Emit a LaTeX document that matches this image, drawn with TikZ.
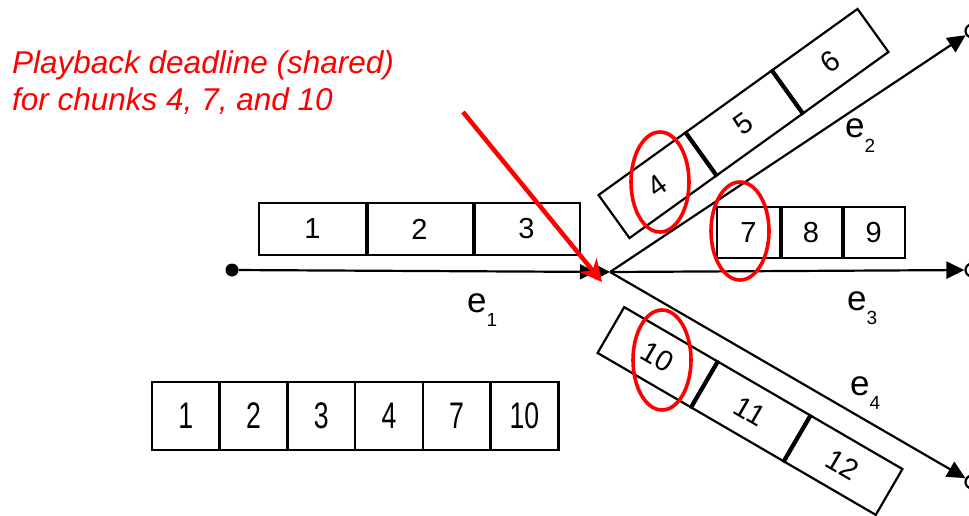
\documentclass[tikz,border=0pt]{standalone}
\usepackage{fontspec}
\setmainfont{Liberation Sans}
\usepackage{graphicx}
\usetikzlibrary{arrows.meta, positioning}

\newcommand\chunkfont{\fontsize{29}{29}\selectfont}
\newcommand\narrow[1]{\scalebox{0.72}[1]{\fontsize{37}{37}\selectfont #1}}
\newcommand\edgename[1]{\fontsize{35}{35}\selectfont e\raisebox{-0.42em}{\fontsize{19}{19}\selectfont #1}}

\begin{document}
\begin{tikzpicture}[x=1pt, y=1pt,
    cell/.style={draw, line width=2.2pt, minimum height=52pt, inner sep=0pt, font=\chunkfont},
    divider/.style={line width=3.8pt},
    link/.style={line width=2.2pt, -{Triangle[length=18pt, width=17pt]}},
    ring/.style={draw=red, line width=3.6pt},
    sink/.style={circle, draw, line width=2.2pt, inner sep=0pt, minimum size=13pt}]
    \useasboundingbox (0,0) rectangle (969,515);

    % Source, junction and receivers
    \node[circle, fill, inner sep=0pt, minimum size=13pt] (src) at (232,245) {};
    \coordinate (jn) at (610,243);
    \foreach \name/\y in {d2/484, d3/245, d4/33}
        \node[sink] (\name) at (972,\y) {};

    % Edges
    \draw[line width=2.2pt, -{Triangle[length=15pt, width=15pt]Triangle[length=15pt, width=15pt]}] (src) -- (jn);
    \draw[link] (jn) -- (d2);
    \draw[link] (jn) -- (d3);
    \draw[link] (jn) -- (d4);
    \node[anchor=base west, inner sep=0pt] (lab1) at (467,203) {\edgename{1}};
    \node[anchor=base west, inner sep=0pt] (lab2) at (845,377) {\edgename{2}};
    \node[anchor=base west, inner sep=0pt] (lab3) at (847,205) {\edgename{3}};
    \node[anchor=base west, inner sep=0pt] (lab4) at (850,120) {\edgename{4}};

    % Chunks on e1
    \foreach \n [count=\i] in {1,2,3}
        \node[cell, minimum width=107pt] (top\i) at ({259+107*(\i-0.5)},286) {\n};
    \foreach \i in {1,2}
        \draw[divider] (top\i.north east) -- (top\i.south east);

    % Chunks on e3
    \foreach \n [count=\i] in {7,8,9}
        \node[cell, minimum width=62.7pt, minimum height=51pt] (mid\i) at ({717+62.7*(\i-0.5)},282.5) {\n};
    \foreach \i in {1,2}
        \draw[divider] (mid\i.north east) -- (mid\i.south east);

    % Chunks on e2
    \begin{scope}[shift={(743.5,391.5)}, rotate=35.7, transform shape]
        \foreach \n [count=\i] in {4,5,6}
            \node[cell, minimum width=106.3pt, minimum height=53pt] (up\i) at ({106.3*(\i-2)},0) {\n};
        \foreach \i in {1,2}
            \draw[divider] (up\i.north east) -- (up\i.south east);
    \end{scope}

    % Chunks on e4
    \begin{scope}[shift={(750,104)}, rotate=-30.2, transform shape]
        \foreach \n [count=\i] in {10,11,12}
            \node[cell, minimum width=107.3pt, minimum height=53pt] (dn\i) at ({107.3*(\i-2)},0) {\n};
        \foreach \i in {1,2}
            \draw[divider] (dn\i.north east) -- (dn\i.south east);
    \end{scope}

    % Playback buffer
    \foreach \n [count=\i] in {1,2,3,4,7,10}
        \node[cell, line width=2.6pt, minimum width=67.7pt, minimum height=68pt] (buf\i) at ({152+67.7*(\i-0.5)},99) {\narrow{\n}};

    % Shared deadline
    \draw[ring] (660,333) ellipse [x radius=29, y radius=50];
    \draw[ring] (740,284) ellipse [x radius=29, y radius=49];
    \draw[ring] (662,155) ellipse [x radius=29, y radius=50];
    \node[anchor=north west, inner sep=0pt, align=left, text=red,
          font=\fontsize{31.5}{37}\selectfont\itshape] (note) at (12,465)
        {Playback deadline (shared)\\for chunks 4, 7, and 10};
    \coordinate (tail) at (463,403);
    \coordinate (due) at (602,233);
    \draw[red, line width=4.5pt, -{Stealth[length=22pt, width=22pt]}] (tail) -- (due);
\end{tikzpicture}
\end{document}
